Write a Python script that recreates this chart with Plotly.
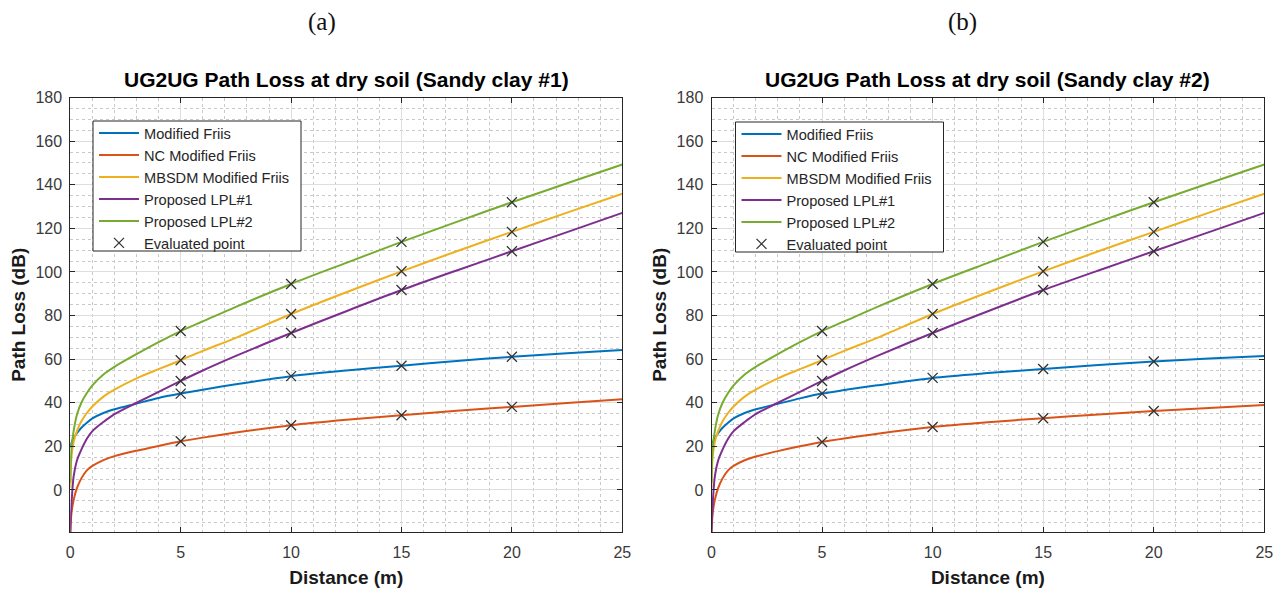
import plotly.graph_objects as go

# ---------------- data ----------------
DIST = [0, 0.05, 0.15, 0.3, 0.5, 0.75, 1, 1.5, 2, 3, 4, 5, 6, 7.5, 10, 12.5, 15, 17.5, 20, 22.5, 25]

# Panel (a): Sandy clay #1
A_MODIFIED_FRIIS = [19.5, 21.5, 23.8, 26, 28.5, 30.8, 32.8, 35.3, 37, 39.6, 42.2, 44.2, 46, 48.5, 52.2, 54.8, 57, 59.2, 61.1, 62.7, 64.2]
A_NC_MODIFIED_FRIIS = [-19.3, -11, -4.6, 0.8, 5.3, 9, 11, 13.7, 15.5, 18, 20.2, 22.3, 24, 26.3, 29.7, 32.2, 34.3, 36.3, 38.1, 39.9, 41.6]
A_MBSDM = [1, 15, 22, 27, 31.5, 35.3, 38.3, 42.8, 46, 51.2, 55.4, 59.5, 63.8, 69.8, 80.7, 90.7, 100.3, 109.5, 118.4, 127.2, 135.9]
A_LPL1 = [-19.3, -7, 6.1, 13.5, 18.5, 23.5, 27, 31.2, 34.8, 40, 45, 50, 54.8, 61.5, 72, 82, 91.7, 100.7, 109.5, 118.3, 127.1]
A_LPL2 = [3.3, 19, 27, 34.5, 40, 44.5, 48, 53, 56.5, 62.3, 67.8, 72.9, 77.3, 84, 94.5, 104.2, 113.8, 123, 132, 140.7, 149.3]

# Panel (b): Sandy clay #2
B_MODIFIED_FRIIS = [19.5, 21.5, 23.8, 26, 28.5, 30.8, 32.8, 35.3, 37, 39.5, 42, 44.2, 45.8, 48, 51.4, 53.6, 55.5, 57.3, 58.9, 60.3, 61.5]
B_NC_MODIFIED_FRIIS = [-19.3, -11, -4.6, 0.8, 5.3, 9, 11, 13.6, 15.3, 17.8, 20, 22, 23.6, 25.8, 28.9, 31.1, 32.9, 34.6, 36.2, 37.6, 39]
B_MBSDM = [1, 15, 22, 27, 31.5, 35.3, 38.3, 42.8, 46, 51.2, 55.4, 59.5, 63.8, 69.8, 80.7, 90.7, 100.3, 109.5, 118.4, 127.2, 135.9]
B_LPL1 = [-19.3, -7, 6.1, 13.5, 18.5, 23.5, 27, 31.2, 34.8, 40, 45, 50, 54.8, 61.5, 72, 82, 91.7, 100.7, 109.5, 118.3, 127.1]
B_LPL2 = [3.3, 19, 27, 34.5, 40, 44.5, 48, 53, 56.5, 62.3, 67.8, 72.9, 77.3, 84, 94.5, 104.2, 113.8, 123, 132, 140.7, 149.3]

# Evaluated points
EVAL_DIST = [5, 10, 15, 20]
A_EVAL = {
    "Modified Friis": [44.2, 52.2, 57, 61.1],
    "NC Modified Friis": [22.3, 29.7, 34.3, 38.1],
    "MBSDM Modified Friis": [59.5, 80.7, 100.3, 118.4],
    "Proposed LPL#1": [50, 72, 91.7, 109.5],
    "Proposed LPL#2": [72.9, 94.5, 113.8, 132],
}
B_EVAL = {
    "Modified Friis": [44.2, 51.4, 55.5, 58.9],
    "NC Modified Friis": [22, 28.9, 32.9, 36.2],
    "MBSDM Modified Friis": [59.5, 80.7, 100.3, 118.4],
    "Proposed LPL#1": [50, 72, 91.7, 109.5],
    "Proposed LPL#2": [72.9, 94.5, 113.8, 132],
}

SERIES_NAMES = ["Modified Friis", "NC Modified Friis", "MBSDM Modified Friis", "Proposed LPL#1", "Proposed LPL#2"]
COLORS = ["#0072BD", "#D95319", "#EDB120", "#7E2F8E", "#77AC30"]
TITLES = ["UG2UG Path Loss at dry soil (Sandy clay #1)", "UG2UG Path Loss at dry soil (Sandy clay #2)"]
PANEL_LABELS = ["(a)", "(b)"]
Y_TICKS = [0, 20, 40, 60, 80, 100, 120, 140, 160, 180]
X_TICKS = [0, 5, 10, 15, 20, 25]

panels = [
    ([A_MODIFIED_FRIIS, A_NC_MODIFIED_FRIIS, A_MBSDM, A_LPL1, A_LPL2], A_EVAL),
    ([B_MODIFIED_FRIIS, B_NC_MODIFIED_FRIIS, B_MBSDM, B_LPL1, B_LPL2], B_EVAL),
]

W, H = 1288, 589
FONT = "Liberation Sans, Arial, Helvetica, sans-serif"
X_DOMAINS = [[70.3 / W, 622.3 / W], [711.5 / W, 1264.3 / W]]
Y_DOMAIN = [(H - 532) / H, (H - 97.6) / H]
LEGEND_BOXES = [(93, 121, 301, 251), (735.5, 122, 943.5, 252)]  # pixel box (x0, y0, x1, y1)

fig = go.Figure()

for p, (curves, evals) in enumerate(panels):
    xa = "x" if p == 0 else "x2"
    ya = "y" if p == 0 else "y2"
    leg = "legend" if p == 0 else "legend2"
    for name, col, vals in zip(SERIES_NAMES, COLORS, curves):
        fig.add_trace(go.Scatter(
            x=DIST, y=vals, mode="lines", name=name,
            line=dict(color=col, width=2, shape="spline", smoothing=0.8),
            xaxis=xa, yaxis=ya, legend=leg,
        ))
    ex, ey = [], []
    for name in SERIES_NAMES:
        ex += EVAL_DIST
        ey += evals[name]
    fig.add_trace(go.Scatter(
        x=ex, y=ey, mode="markers", name="Evaluated point",
        marker=dict(symbol="x-thin", size=10, color="#333333",
                    line=dict(width=1.3, color="#333333")),
        xaxis=xa, yaxis=ya, legend=leg,
    ))

axis_common = dict(
    showline=True, mirror="ticks", linecolor="#262626", linewidth=1,
    ticks="inside", ticklen=5, tickcolor="#262626", tickwidth=1,
    showgrid=True, gridcolor="#dedede", gridwidth=1.2,
    zeroline=False,
    tickfont=dict(family=FONT, size=16, color="#3a3a3a"),
)

for p in range(2):
    sfx = "" if p == 0 else "2"
    fig.update_layout(**{
        "xaxis" + sfx: dict(
            axis_common, domain=X_DOMAINS[p], range=[0, 25],
            tickvals=X_TICKS, anchor="y" + sfx, ticklabelstandoff=6,
            minor=dict(dtick=1, tick0=0, showgrid=True, gridcolor="#c9c9c9",
                       griddash="dot", gridwidth=1, ticks=""),
            title=dict(text="<b>Distance (m)</b>", font=dict(family=FONT, size=19, color="#1a1a1a"),
                       standoff=10),
        ),
        "yaxis" + sfx: dict(
            axis_common, domain=Y_DOMAIN, range=[-19.3, 180],
            tickvals=Y_TICKS, anchor="x" + sfx, ticklabelstandoff=4,
            minor=dict(dtick=5, tick0=0, showgrid=True, gridcolor="#c9c9c9",
                       griddash="dot", gridwidth=1, ticks=""),
            title=dict(text="<b>Path Loss (dB)</b>", font=dict(family=FONT, size=19, color="#1a1a1a"),
                       standoff=4),
        ),
    })

legend_common = dict(
    xanchor="left", yanchor="top", bgcolor="rgba(0,0,0,0)",
    borderwidth=0,
    font=dict(family=FONT, size=14.6, color="#262626"),
    tracegroupgap=0, itemwidth=40,
)
fig.update_layout(
    legend=dict(legend_common, x=(LEGEND_BOXES[0][0] + 1) / W, y=(H - LEGEND_BOXES[0][1] + 4) / H),
    legend2=dict(legend_common, x=(LEGEND_BOXES[1][0] + 1) / W, y=(H - LEGEND_BOXES[1][1] + 4) / H),
)

shapes = []
for (x0, y0, x1, y1) in LEGEND_BOXES:
    shapes.append(dict(type="rect", xref="paper", yref="paper",
                       x0=x0 / W, x1=x1 / W, y0=(H - y1) / H, y1=(H - y0) / H,
                       fillcolor="white", line=dict(color="#262626", width=1), layer="above"))

annotations = []
for p in range(2):
    cx = (X_DOMAINS[p][0] + X_DOMAINS[p][1]) / 2
    annotations.append(dict(
        text="<b>" + TITLES[p] + "</b>", x=cx, y=(H - 80) / H, xref="paper", yref="paper",
        xanchor="center", yanchor="middle", showarrow=False,
        font=dict(family=FONT, size=21, color="#000000"),
    ))
annotations.append(dict(text=PANEL_LABELS[0], x=322 / W, y=(H - 22) / H, xref="paper", yref="paper",
                        xanchor="center", yanchor="middle", showarrow=False,
                        font=dict(family="Liberation Serif, DejaVu Serif, serif", size=25, color="#111")))
annotations.append(dict(text=PANEL_LABELS[1], x=962 / W, y=(H - 22) / H, xref="paper", yref="paper",
                        xanchor="center", yanchor="middle", showarrow=False,
                        font=dict(family="Liberation Serif, DejaVu Serif, serif", size=25, color="#111")))

fig.update_layout(
    width=W, height=H,
    margin=dict(l=0, r=0, t=0, b=0, autoexpand=False),
    paper_bgcolor="white", plot_bgcolor="white",
    annotations=annotations, shapes=shapes,
    showlegend=True,
)

fig.write_html("out.html")
